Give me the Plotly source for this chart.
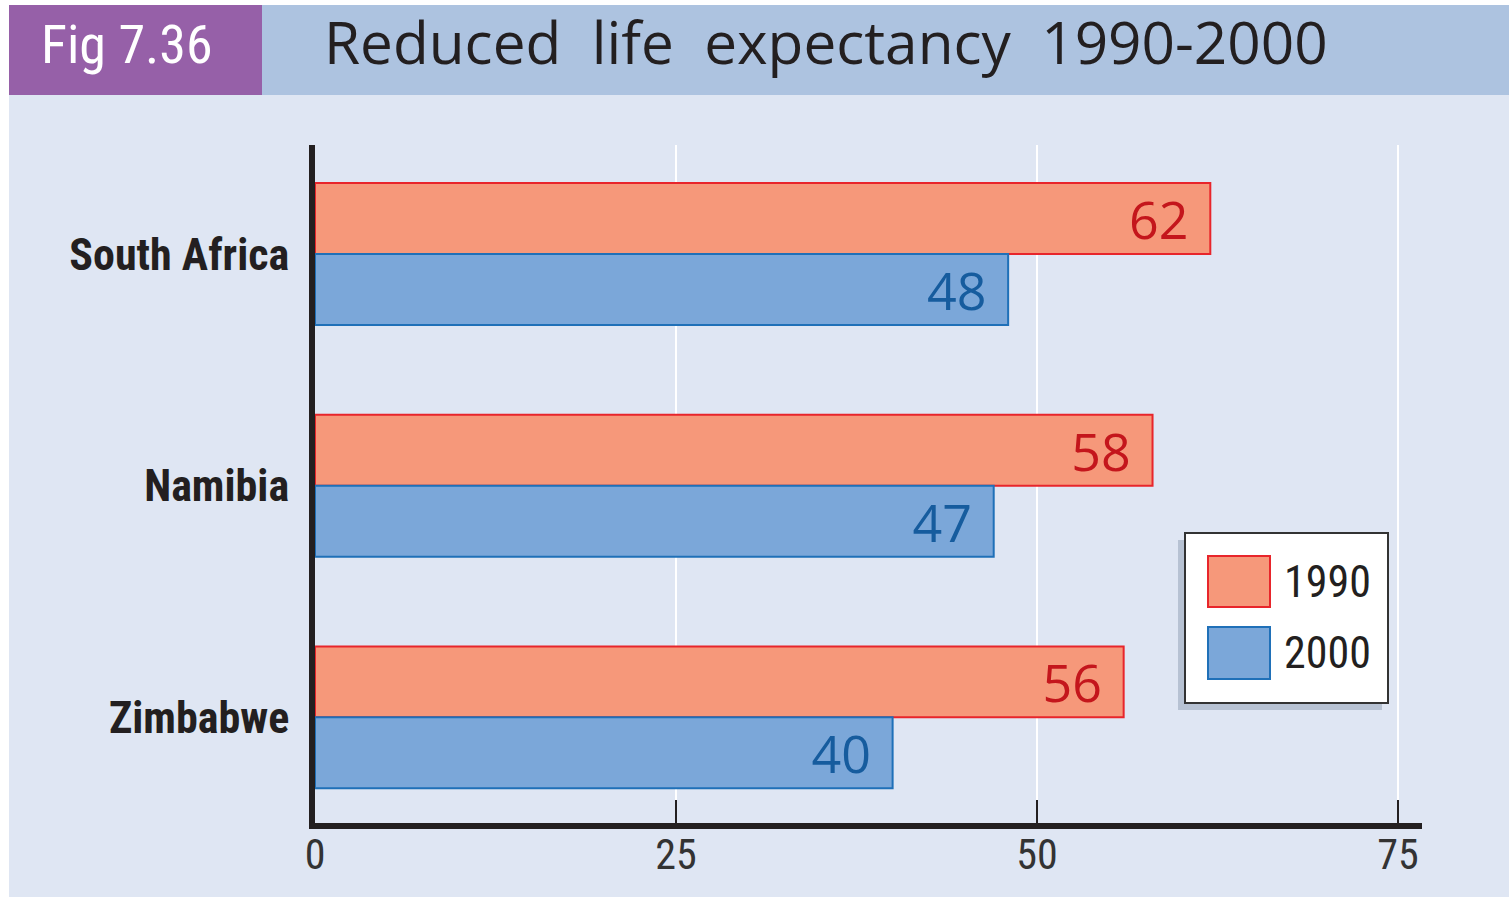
import plotly.graph_objects as go

W, H = 1509, 899

countries = ["South Africa", "Namibia", "Zimbabwe"]
le_1990 = [62, 58, 56]
le_2000 = [48, 47, 40]
years = ["1990", "2000"]
x_ticks = [0, 25, 50, 75]

title_text = "Reduced life expectancy 1990-2000"
fig_label = "Fig 7.36"

fill_1990, line_1990, txt_1990 = "#f6987a", "#e8252b", "#c4161c"
fill_2000, line_2000, txt_2000 = "#7ba7d9", "#1f70b8", "#165c9e"
bg = "#dfe6f3"
narrow = "Roboto Condensed, Liberation Sans Narrow, sans-serif"


def px(x):
    return x / W


def py(y):
    return 1 - y / H


label_suffix = "\u00a0\u200a"

fig = go.Figure()
fig.add_trace(go.Bar(
    y=countries, x=le_1990, orientation="h", name=years[0],
    marker=dict(color=fill_1990, line=dict(color=line_1990, width=2)),
    texttemplate="%{x}" + label_suffix, textposition="inside", insidetextanchor="end",
    textfont=dict(color=txt_1990, size=52, family="Open Sans, sans-serif", weight=500),
    constraintext="none", showlegend=False,
))
fig.add_trace(go.Bar(
    y=countries, x=le_2000, orientation="h", name=years[1],
    marker=dict(color=fill_2000, line=dict(color=line_2000, width=2)),
    texttemplate="%{x}" + label_suffix, textposition="inside", insidetextanchor="end",
    textfont=dict(color=txt_2000, size=52, family="Open Sans, sans-serif", weight=500),
    constraintext="none", showlegend=False,
))

shapes = [
    dict(type="rect", xref="paper", yref="paper", x0=px(9), x1=px(1509), y0=py(897), y1=py(95),
         fillcolor=bg, line=dict(width=0), layer="below"),
    dict(type="rect", xref="paper", yref="paper", x0=px(9), x1=px(262), y0=py(95), y1=py(5),
         fillcolor="#9660a8", line=dict(width=0), layer="below"),
    dict(type="rect", xref="paper", yref="paper", x0=px(262), x1=px(1509), y0=py(95), y1=py(5),
         fillcolor="#adc3e0", line=dict(width=0), layer="below"),
    dict(type="rect", xref="paper", yref="paper", x0=px(1178), x1=px(1382), y0=py(710), y1=py(540),
         fillcolor="#b7c2d3", line=dict(width=0)),
    dict(type="rect", xref="paper", yref="paper", x0=px(1185), x1=px(1388), y0=py(703), y1=py(533),
         fillcolor="white", line=dict(color="#333333", width=2)),
    dict(type="rect", xref="paper", yref="paper", x0=px(1208), x1=px(1270), y0=py(607), y1=py(556),
         fillcolor=fill_1990, line=dict(color=line_1990, width=2)),
    dict(type="rect", xref="paper", yref="paper", x0=px(1208), x1=px(1270), y0=py(679), y1=py(627),
         fillcolor=fill_2000, line=dict(color=line_2000, width=2)),
]

annotations = [
    dict(text=fig_label, xref="paper", yref="paper", x=px(127), y=py(44), showarrow=False,
         xanchor="center", yanchor="middle", font=dict(family=narrow, size=54, color="white")),
    dict(text=title_text.replace(" ", "\u00a0 "), xref="paper", yref="paper", x=px(322), y=py(41),
         showarrow=False, xanchor="left", yanchor="middle",
         font=dict(family="Open Sans, sans-serif", size=58.5, color="#231f20", weight=400)),
    dict(text=years[0], xref="paper", yref="paper", x=px(1282), y=py(582), showarrow=False,
         xanchor="left", yanchor="middle", font=dict(family=narrow, size=44, color="#231f20")),
    dict(text=years[1], xref="paper", yref="paper", x=px(1282), y=py(653), showarrow=False,
         xanchor="left", yanchor="middle", font=dict(family=narrow, size=44, color="#231f20")),
]

fig.update_layout(
    width=W, height=H,
    margin=dict(l=0, r=0, t=0, b=0, autoexpand=False),
    paper_bgcolor="white", plot_bgcolor=bg,
    barmode="group", bargap=0.387, bargroupgap=0,
    shapes=shapes, annotations=annotations,
    xaxis=dict(
        domain=[px(315), px(1422)], range=[0, 76.66], automargin=False,
        tickvals=x_ticks, ticktext=[str(v) for v in x_ticks],
        showgrid=True, gridcolor="white", gridwidth=2, zeroline=False,
        showline=True, linecolor="#231f20", linewidth=6,
        ticks="inside", ticklen=23, tickwidth=2, tickcolor="#231f20",
        ticklabelstandoff=-10,
        tickfont=dict(family=narrow, size=42, color="#333333"),
    ),
    yaxis=dict(
        domain=[py(823), py(145)], range=[2.456, -0.471], automargin=False,
        categoryorder="array", categoryarray=countries,
        showgrid=False, zeroline=False,
        showline=True, linecolor="#231f20", linewidth=6,
        ticks="", ticklabelstandoff=11,
        tickfont=dict(family=narrow, size=44, color="#231f20", weight="bold"),
    ),
)

fig.write_html(
    "out.html",
    config={"displayModeBar": False},
    post_script="document.body.style.margin='0';document.body.style.overflow='hidden';",
)
